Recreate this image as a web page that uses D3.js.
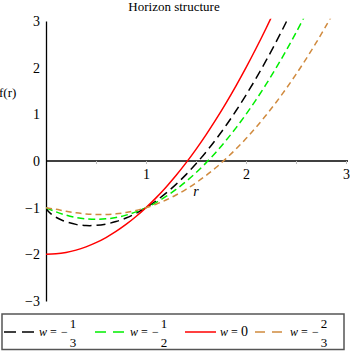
<!DOCTYPE html>
<html>
<head>
<meta charset="utf-8">
<script src="https://cdn.jsdelivr.net/npm/d3@7"></script>
<style>
  html, body { margin: 0; padding: 0; background: #fff; }
  svg { display: block; }
  text { font-family: "Liberation Serif", "Times New Roman", serif; fill: #000; }
</style>
</head>
<body>
<svg id="chart" width="350" height="353"></svg>
<script>
// ---- data ----
const title = "Horizon structure";
const yLabel = "f(r)";
const xLabel = "r";
const xTicks = [0.5, 1, 1.5, 2, 2.5, 3];
const xTickLabels = ["", "1", "", "2", "", "3"];
const yTicks = [-3, -2, -1, 0, 1, 2, 3];
const yTickLabels = ["\u22123", "\u22122", "\u22121", "0", "1", "2", "3"];

// w = -1/3 (black)
const blackR = [0, 0.02, 0.05, 0.1, 0.15, 0.2, 0.3, 0.4, 0.5, 0.6, 0.7, 0.8, 0.9, 1.0, 1.1, 1.2, 1.3, 1.4, 1.5, 1.6, 1.7, 1.8, 1.9, 2.0, 2.1, 2.2, 2.3, 2.4, 2.5];
const blackF = [-1, -1.073, -1.133, -1.205, -1.260, -1.302, -1.358, -1.383, -1.380, -1.351, -1.298, -1.222, -1.122, -1, -0.856, -0.689, -0.501, -0.292, -0.060, 0.192, 0.466, 0.760, 1.076, 1.413, 1.770, 2.149, 2.548, 2.968, 3.408];
// w = -1/2 (green)
const greenR = [0, 0.1, 0.2, 0.3, 0.4, 0.5, 0.6, 0.7, 0.8, 0.9, 1.0, 1.1, 1.2, 1.3, 1.4, 1.5, 1.6, 1.7, 1.8, 1.9, 2.0, 2.1, 2.2, 2.3, 2.4, 2.5, 2.6];
const greenF = [-1, -1.09, -1.16, -1.21, -1.24, -1.25, -1.24, -1.21, -1.16, -1.09, -1, -0.89, -0.76, -0.61, -0.44, -0.25, -0.04, 0.19, 0.44, 0.71, 1.0, 1.31, 1.64, 1.99, 2.36, 2.75, 3.16];
// w = 0 (red)
const redR = [0, 0.1, 0.2, 0.3, 0.4, 0.5, 0.6, 0.7, 0.8, 0.9, 1.0, 1.1, 1.2, 1.3, 1.4, 1.5, 1.6, 1.7, 1.8, 1.9, 2.0, 2.1, 2.2, 2.3];
const redF = [-2, -1.99, -1.96, -1.91, -1.84, -1.75, -1.64, -1.51, -1.36, -1.19, -1, -0.79, -0.56, -0.31, -0.04, 0.25, 0.56, 0.89, 1.24, 1.61, 2.0, 2.41, 2.84, 3.29];
// w = -2/3 (orange)
const orangeR = [0, 0.1, 0.2, 0.3, 0.4, 0.5, 0.6, 0.7, 0.8, 0.9, 1.0, 1.1, 1.2, 1.3, 1.4, 1.5, 1.6, 1.7, 1.8, 1.9, 2.0, 2.1, 2.2, 2.3, 2.4, 2.5, 2.6, 2.7, 2.8, 2.9];
const orangeF = [-1, -1.036, -1.077, -1.111, -1.135, -1.147, -1.146, -1.132, -1.103, -1.059, -1, -0.926, -0.835, -0.729, -0.606, -0.467, -0.311, -0.139, 0.051, 0.257, 0.480, 0.721, 0.979, 1.254, 1.547, 1.857, 2.185, 2.530, 2.893, 3.274];

const seriesNames = ["w = -1/3", "w = -1/2", "w = 0", "w = -2/3"];
const legendSign = ["\u2212", "\u2212", "", "\u2212"];
const legendNum = ["1", "1", "0", "2"];
const legendDen = ["3", "2", "", "3"];

// ---- styles (kept separate from data) ----
const styles = [
  { color: "#000000", dash: "9,5", legendDash: "12,6" },
  { color: "#00ee00", dash: "7,4", legendDash: "11,7" },
  { color: "#ff0000", dash: null, legendDash: null },
  { color: "#d08a3e", dash: "6,4", legendDash: "10,7" }
];
const seriesR = [blackR, greenR, redR, orangeR];
const seriesF = [blackF, greenF, redF, orangeF];

const svg = d3.select("#chart");
const x = d3.scaleLinear().domain([0, 3]).range([46, 346]);
const y = d3.scaleLinear().domain([-3, 3]).range([301, 21]);

// title
svg.append("text").attr("x", 174).attr("y", 11).attr("text-anchor", "middle")
  .style("font-size", "13px").text(title);

// clip
svg.append("defs").append("clipPath").attr("id", "clip")
  .append("rect").attr("x", x(0)).attr("y", y(3.05)).attr("width", x(3) - x(0) + 2).attr("height", y(-3) - y(3.05));

// x axis
const xAxis = d3.axisBottom(x).tickValues(xTicks).tickSize(3).tickSizeOuter(0)
  .tickFormat((d, i) => xTickLabels[i]);
const gx = svg.append("g").attr("transform", `translate(0,${y(0)})`).call(xAxis);
gx.select(".domain").attr("stroke", "#000").attr("stroke-width", 1.3).attr("d", `M${x(0)},0H${x(3) + 2}`);
gx.selectAll(".tick line").attr("stroke", "#bbb").attr("stroke-width", 1);
gx.selectAll(".tick text").attr("y", 8).attr("dy", "0.71em")
  .style("font-size", "14px").style("font-family", "Liberation Serif, serif").attr("fill", "#000");

// y axis
const yAxis = d3.axisLeft(y).tickValues(yTicks).tickSize(0).tickSizeOuter(0).tickPadding(6)
  .tickFormat((d, i) => yTickLabels[i]);
const gy = svg.append("g").attr("transform", `translate(${x(0)},0)`).call(yAxis);
gy.select(".domain").attr("stroke", "#000").attr("stroke-width", 1.3);
gy.selectAll(".tick text").style("font-size", "14px").style("font-family", "Liberation Serif, serif").attr("fill", "#000");

// axis labels
svg.append("text").attr("x", -1).attr("y", 97).style("font-size", "13px").text(yLabel);
svg.append("text").attr("x", 196).attr("y", 196).attr("text-anchor", "middle")
  .style("font-size", "14px").style("font-style", "italic").text(xLabel);

// curves
const line = d3.line().x(d => x(d[0])).y(d => y(d[1])).curve(d3.curveCatmullRom);
const gc = svg.append("g").attr("clip-path", "url(#clip)");
seriesR.forEach((rs, i) => {
  const pts = rs.map((r, j) => [r, seriesF[i][j]]);
  gc.append("path").datum(pts).attr("d", line)
    .attr("fill", "none").attr("stroke", styles[i].color).attr("stroke-width", 1.5)
    .attr("stroke-dasharray", styles[i].dash);
});

// legend
const lg = svg.append("g");
lg.append("rect").attr("x", 2).attr("y", 314).attr("width", 342).attr("height", 35.5)
  .attr("fill", "none").attr("stroke", "#555").attr("stroke-width", 1.5);
const legendX = [4, 95, 185, 255];
const ly = 332;
seriesNames.forEach((name, i) => {
  const x0 = legendX[i];
  lg.append("line").attr("x1", x0).attr("x2", x0 + 31).attr("y1", ly).attr("y2", ly)
    .attr("stroke", styles[i].color).attr("stroke-width", 1.5)
    .attr("stroke-dasharray", styles[i].legendDash);
  const tx = x0 + 35;
  lg.append("text").attr("x", tx).attr("y", ly + 4).style("font-size", "12px").style("font-style", "italic").text("w");
  lg.append("text").attr("x", tx + 11).attr("y", ly + 4).style("font-size", "12px").text("=");
  if (legendDen[i]) {
    lg.append("text").attr("x", tx + 22).attr("y", ly + 4).style("font-size", "12px").text(legendSign[i]);
    lg.append("text").attr("x", tx + 34).attr("y", ly - 4).attr("text-anchor", "middle").style("font-size", "13px").text(legendNum[i]);
    lg.append("text").attr("x", tx + 34).attr("y", ly + 15).attr("text-anchor", "middle").style("font-size", "13px").text(legendDen[i]);
  } else {
    lg.append("text").attr("x", tx + 21).attr("y", ly + 4).style("font-size", "14px").text(legendNum[i]);
  }
});
</script>
</body>
</html>
